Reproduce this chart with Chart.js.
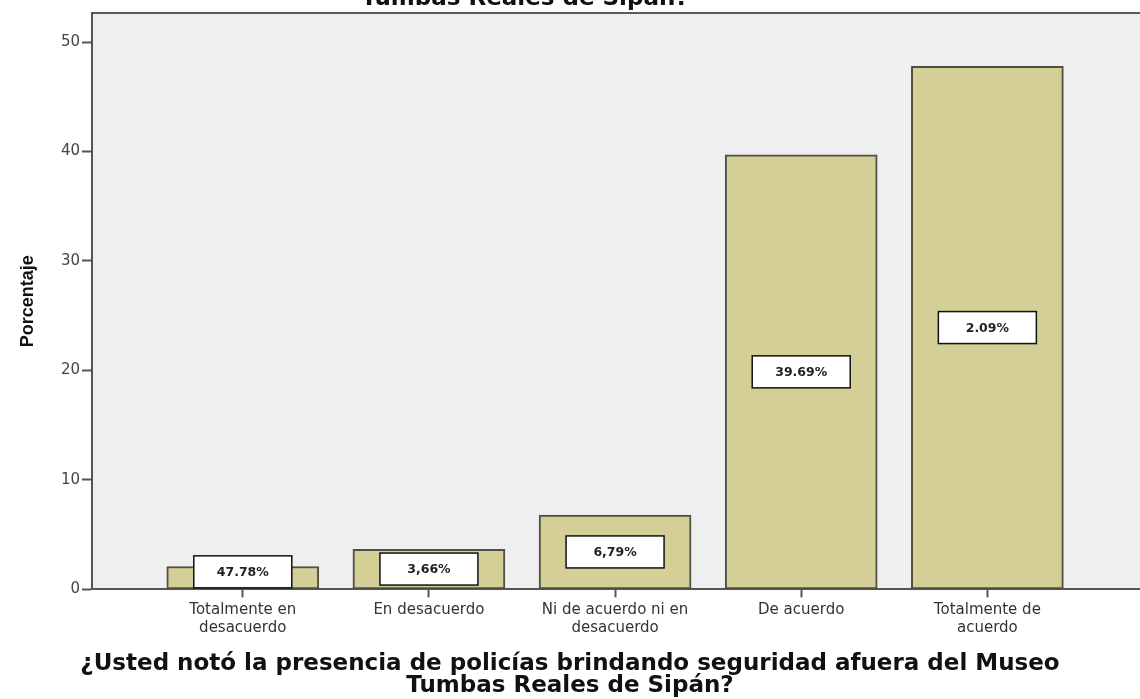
<!DOCTYPE html>
<html>
<head>
<meta charset="utf-8">
<script src="https://cdn.jsdelivr.net/npm/chart.js@4.4.1/dist/chart.umd.min.js"></script>
<style>
  html, body { margin: 0; padding: 0; background: #ffffff; }
  #wrap { position: relative; width: 1140px; height: 699px; }
</style>
</head>
<body>
<div id="wrap"><canvas id="chart"></canvas></div>
<script>
// Categorías, valores y etiquetas tal como aparecen en la imagen
const categories = [
  ['Totalmente en', 'desacuerdo'],
  ['En desacuerdo'],
  ['Ni de acuerdo ni en', 'desacuerdo'],
  ['De acuerdo'],
  ['Totalmente de', 'acuerdo']
];
const percentages = [2.09, 3.66, 6.79, 39.69, 47.78];
const boxLabels = ['47.78%', '3,66%', '6,79%', '39.69%', '2.09%'];
const yTicks = [0, 10, 20, 30, 40, 50];
const topTitle = 'Tumbas Reales de Sipán?';
const xTitle = ['¿Usted notó la presencia de policías brindando seguridad afuera del Museo', 'Tumbas Reales de Sipán?'];
const yTitle = 'Porcentaje';

// ========== fondo del área + borde superior + título cortado ==========
const plotFrame = {
  id: 'plotFrame',
  beforeDraw(chart) {
    const { ctx, chartArea: a } = chart;
    ctx.save();
    ctx.fillStyle = '#efefef';
    ctx.fillRect(a.left, a.top, a.right - a.left, a.bottom - a.top);
    ctx.strokeStyle = '#5a5a5a';
    ctx.lineWidth = 2;
    ctx.beginPath();
    ctx.moveTo(a.left, a.top);
    ctx.lineTo(a.right, a.top);
    ctx.stroke();
    // título superior (sólo se ve la parte de abajo)
    ctx.fillStyle = '#111';
    ctx.font = 'bold 23px "DejaVu Sans"';
    ctx.textAlign = 'center';
    ctx.textBaseline = 'alphabetic';
    ctx.fillText(topTitle, 525, 5);
    ctx.restore();
  }
};

// ========== cajas blancas con el porcentaje ==========
const boxLabelPlugin = {
  id: 'boxLabels',
  afterDatasetsDraw(chart) {
    const { ctx } = chart;
    const meta = chart.getDatasetMeta(0);
    const w = 98, h = 32;
    ctx.save();
    meta.data.forEach((bar, i) => {
      let cy = (bar.y + bar.base) / 2;
      cy = Math.min(cy, bar.base - h / 2 - 1);
      const x0 = bar.x - w / 2, y0 = cy - h / 2;
      ctx.fillStyle = '#ffffff';
      ctx.fillRect(x0, y0, w, h);
      ctx.strokeStyle = '#111';
      ctx.lineWidth = 1.5;
      ctx.strokeRect(x0, y0, w, h);
      ctx.fillStyle = '#222';
      ctx.font = 'bold 12.5px "DejaVu Sans"';
      ctx.textAlign = 'center';
      ctx.textBaseline = 'middle';
      ctx.fillText(boxLabels[i], bar.x, cy + 1);
    });
    ctx.restore();
  }
};

new Chart(document.getElementById('chart'), {
  type: 'bar',
  data: {
    datasets: [{
      label: yTitle,
      data: percentages.map((v, i) => ({ x: i, y: v })),
      backgroundColor: '#d3cf97',
      borderColor: '#4f4f42',
      borderWidth: 2,
      borderSkipped: false,
      barThickness: 152
    }]
  },
  options: {
    responsive: true,
    maintainAspectRatio: false,
    animation: false,
    layout: { padding: { top: 13, right: 0, bottom: 0, left: 0 } },
    plugins: {
      legend: { display: false },
      tooltip: { enabled: false },
      title: {
        display: true,
        position: 'bottom',
        text: xTitle,
        color: '#111',
        font: { family: 'DejaVu Sans', size: 23, weight: 'bold', lineHeight: 0.96 },
        padding: { top: 12, bottom: 2 }
      }
    },
    scales: {
      x: {
        type: 'linear',
        offset: false,
        min: -0.81,
        max: 4.82,
        afterBuildTicks(scale) {
          scale.ticks = categories.map((c, i) => ({ value: i }));
        },
        grid: { offset: false, drawOnChartArea: false, drawTicks: true, tickLength: 8, tickColor: '#555', tickWidth: 2 },
        border: { display: true, color: '#555', width: 2 },
        ticks: {
          autoSkip: false,
          maxRotation: 0,
          minRotation: 0,
          padding: 3,
          color: '#333',
          font: { family: 'DejaVu Sans', size: 15, lineHeight: 1.25 },
          callback: function(v) { return categories[v] || ''; }
        }
      },
      y: {
        min: 0,
        max: 52.65,
        afterBuildTicks(scale) {
          scale.ticks = yTicks.map(v => ({ value: v }));
        },
        afterFit(scale) { scale.width = 92; },
        grid: { drawOnChartArea: false, drawTicks: true, tickLength: 10, tickColor: '#555', tickWidth: 2 },
        border: { display: true, color: '#555', width: 2 },
        ticks: {
          padding: 2,
          color: '#444',
          font: { family: 'DejaVu Sans', size: 15 }
        },
        title: {
          display: true,
          text: yTitle,
          color: '#111',
          font: { family: 'Liberation Sans', size: 18, weight: 'bold', lineHeight: 1.2 },
          padding: { top: 17, bottom: 0 }
        }
      }
    }
  },
  plugins: [plotFrame, boxLabelPlugin]
});
</script>
</body>
</html>
